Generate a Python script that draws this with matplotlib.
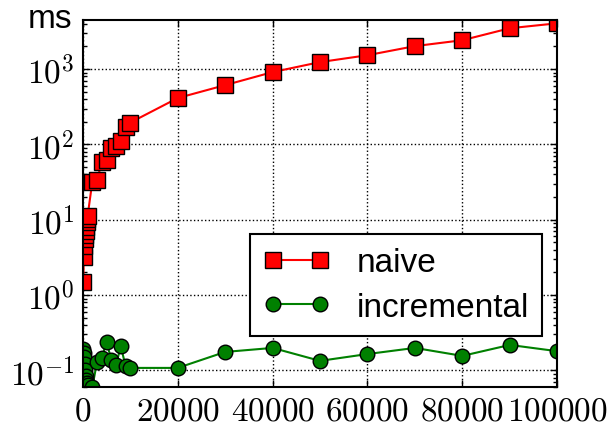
import numpy as np
import matplotlib
matplotlib.use('Agg')
import matplotlib.pyplot as plt
from matplotlib.ticker import FuncFormatter, LogLocator

plt.rcParams['mathtext.fontset'] = 'cm'
plt.rcParams['font.family'] = ['Liberation Sans', 'DejaVu Sans']

# problem sizes
x = [100, 200, 300, 400, 500, 600, 700, 800, 900, 1000,
     2000, 3000, 4000, 5000, 6000, 7000, 8000, 9000, 10000,
     20000, 30000, 40000, 50000, 60000, 70000, 80000, 90000, 100000]

# timings (ms)
naive = [1.5, 3.2, 4.5, 5.5, 6.3, 7.0, 8.0, 9.3, 10.2, 11.1,
         32, 34, 58, 63, 91, 94, 110, 168, 195,
         413, 613, 913, 1240, 1530, 2020, 2420, 3490, 4060]
incremental = [0.19, 0.17, 0.15, 0.12, 0.10, 0.085, 0.075, 0.068, 0.062, 0.065,
               0.06, 0.13, 0.146, 0.24, 0.138, 0.118, 0.21, 0.115, 0.108,
               0.108, 0.176, 0.199, 0.134, 0.165, 0.199, 0.156, 0.218, 0.18]

xticks = [0, 20000, 40000, 60000, 80000, 100000]
yticks = [0.1, 1, 10, 100, 1000]

fig = plt.figure(figsize=(6.09, 4.27), dpi=100)
ax = fig.add_axes([0.136, 0.091, 0.779, 0.86])

ax.plot(x, naive, 'rs-', lw=1.5, ms=11, mec='k', mew=1, label='naive')
ax.plot(x, incremental, 'o-', color='g', lw=1.5, ms=10.5, mec='k', mew=1,
        label='incremental')

ax.set_yscale('log')
ax.set_xlim(0, 100000)
ax.set_ylim(0.06, 4500)
ax.set_xticks(xticks)
ax.set_yticks(yticks)
ax.yaxis.set_minor_locator(LogLocator(base=10, subs=np.arange(2, 10)))
ax.xaxis.set_major_formatter(FuncFormatter(lambda v, p: r'$%d$' % v))
ax.yaxis.set_major_formatter(FuncFormatter(lambda v, p: r'$10^{%d}$' % round(np.log10(v))))

ax.tick_params(which='both', direction='in', top=True, right=True, labelsize=24, pad=6)
ax.tick_params(which='major', length=5, width=1)
ax.tick_params(which='minor', length=3, width=1)
for s in ax.spines.values():
    s.set_linewidth(1.5)
ax.grid(True, which='major', color='k', linestyle=':', linewidth=1)

ax.text(-0.023, 0.981, 'ms', transform=ax.transAxes, ha='right', va='baseline', fontsize=24)

leg = ax.legend(loc='lower right', bbox_to_anchor=(0.968, 0.139), borderaxespad=0,
                fontsize=24, numpoints=2, handlelength=2.0, handletextpad=0.8,
                labelspacing=0.4, borderpad=0.4, fancybox=False, framealpha=1)
leg.get_frame().set_edgecolor('k')
leg.get_frame().set_linewidth(1.5)

fig.savefig('out.png', dpi=100)
